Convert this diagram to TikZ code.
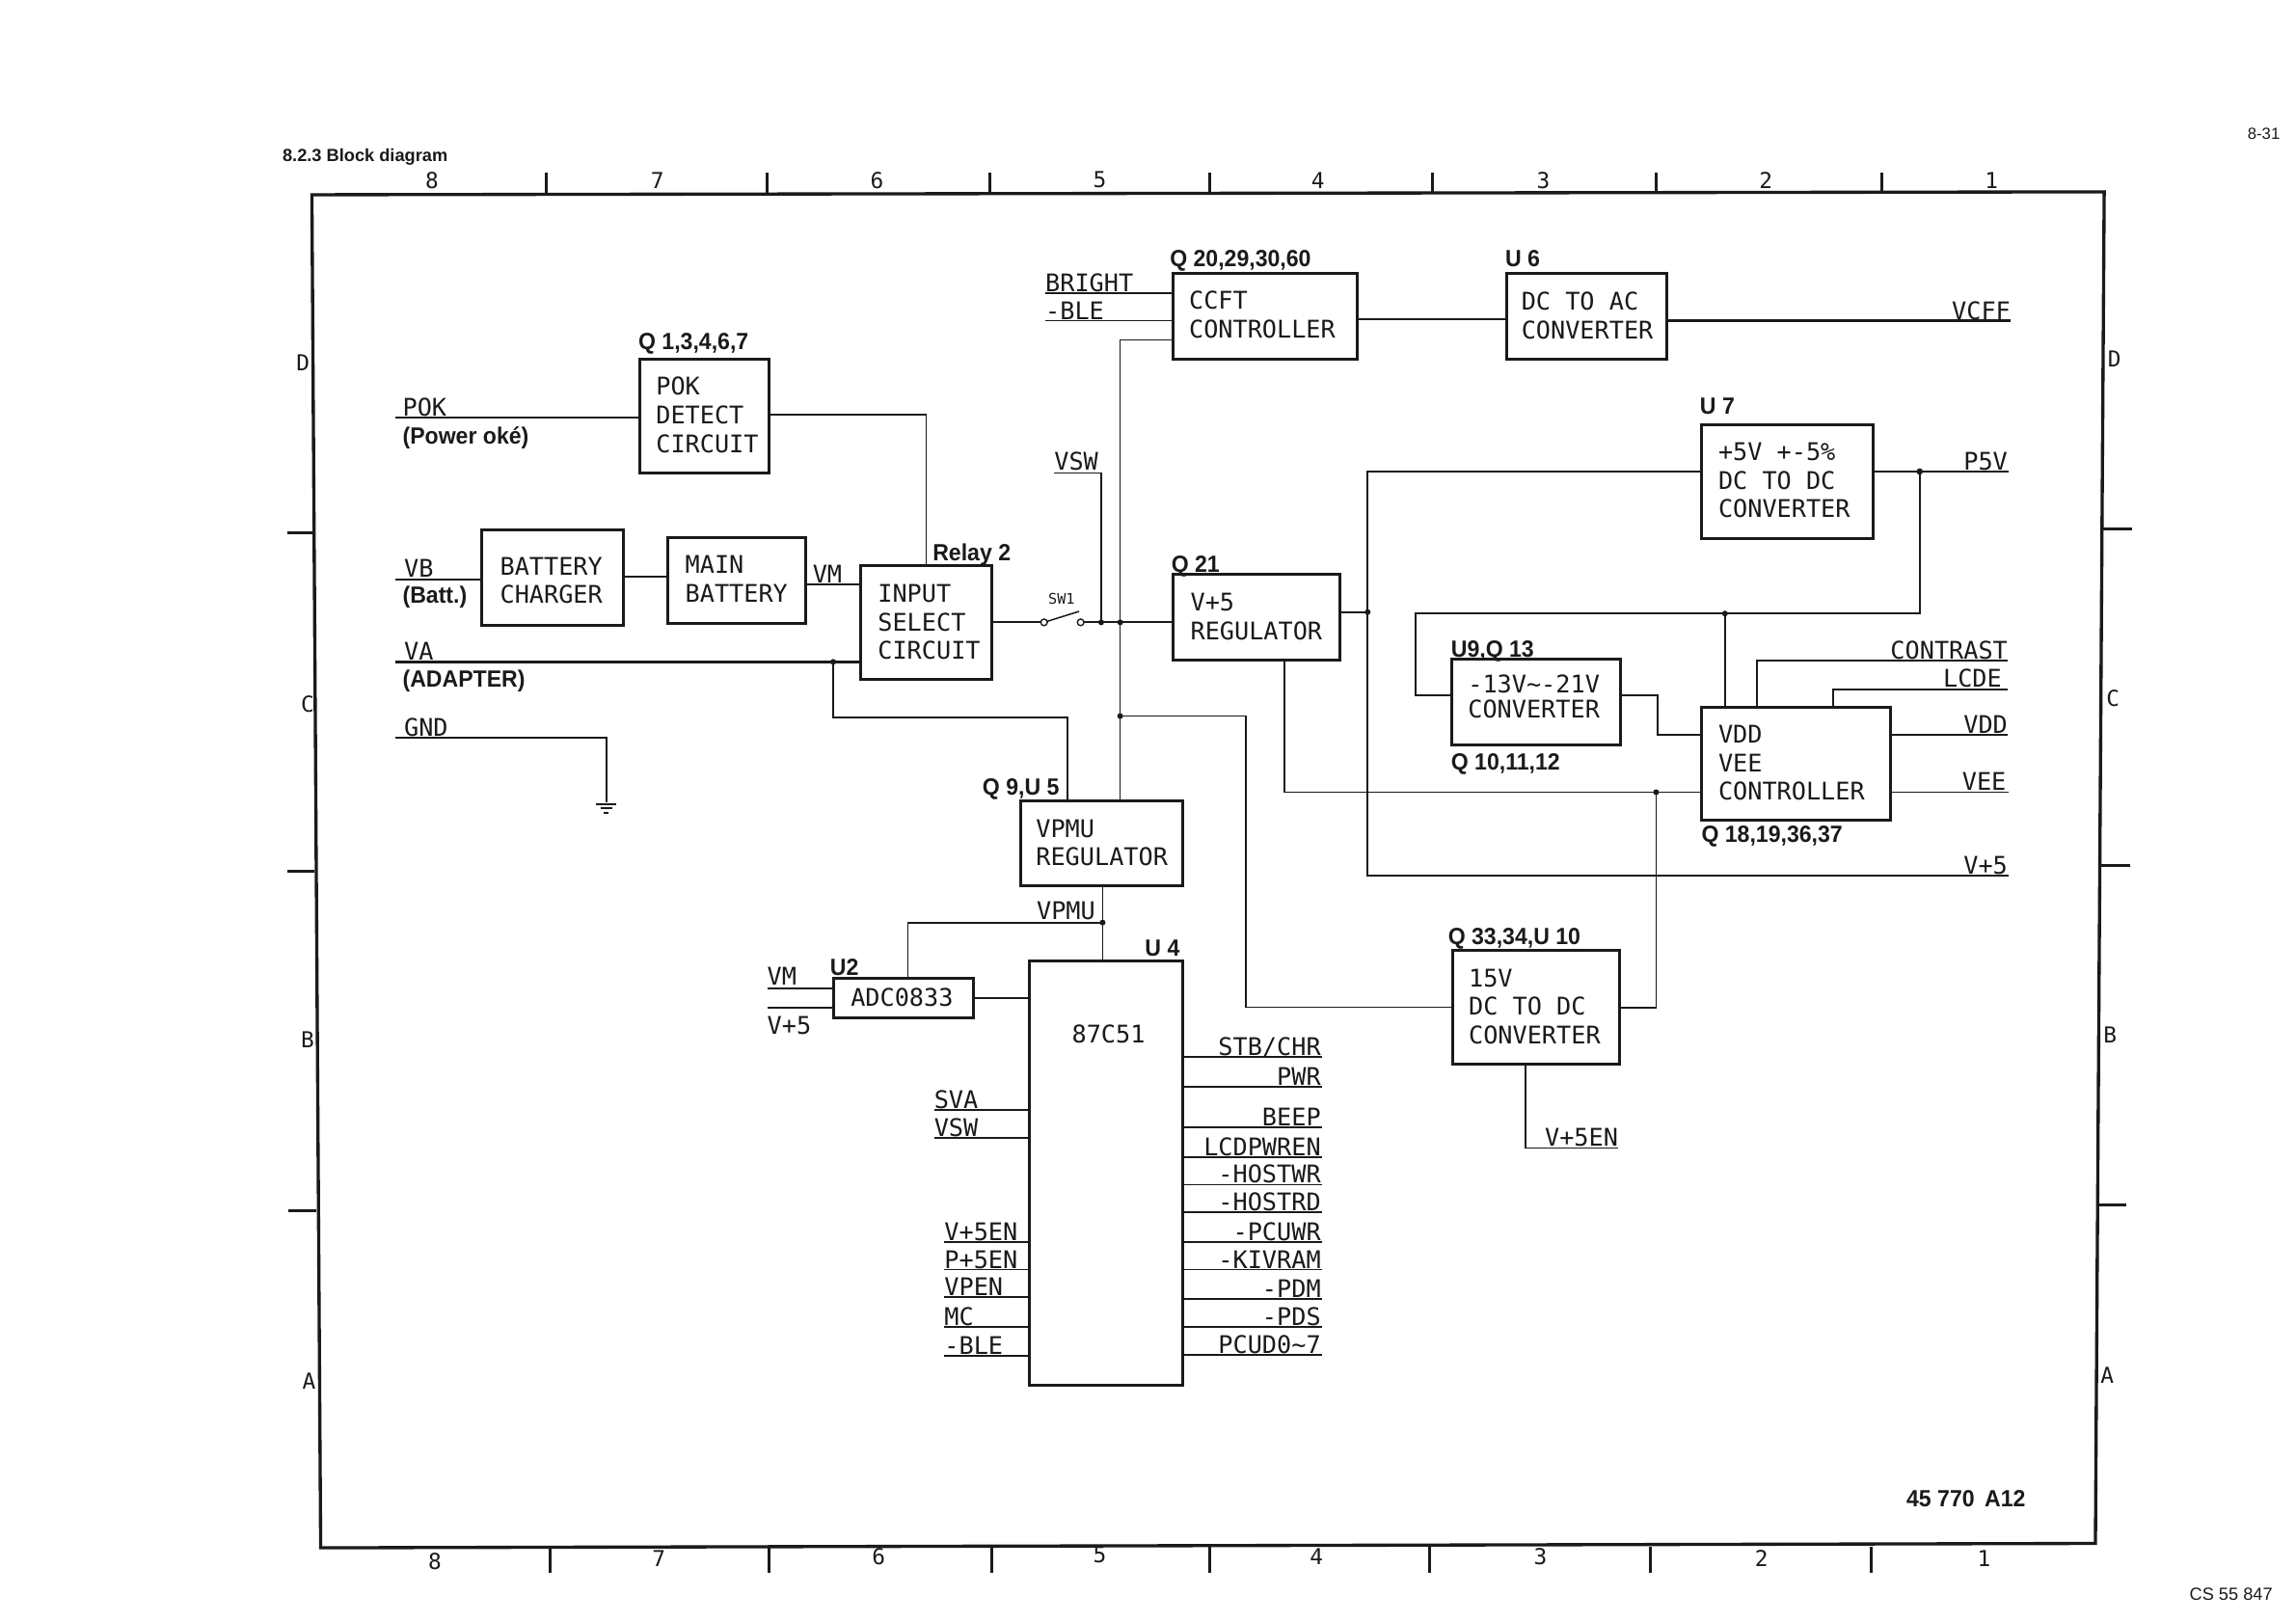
\documentclass[tikz,border=0pt]{standalone}
\usepackage{fontspec}
\setmainfont{Liberation Sans}
\newfontfamily\plotfont{DejaVu Sans Mono}
\newfontfamily\refsfont[FakeStretch=0.95]{Liberation Sans}
\newfontfamily\plainfont{Liberation Sans}
\definecolor{ink}{HTML}{1A1A1A}
\newsavebox\blkbox
\newcommand\Blk[3]{\sbox\blkbox{\begin{tabular}{@{}l@{}}#3\end{tabular}}\kern#1pt\raisebox{\dimexpr-#2pt\relax}[\ht\blkbox][\dp\blkbox]{\usebox\blkbox}\kern-#1pt}
\tikzset{
  blk/.style={draw=ink,line width=2pt,inner sep=0pt,outer sep=0pt,text=ink,font=\plotfont\fontsize{16.6}{19.5}\selectfont},
  wire/.style={draw=ink,line width=1.2pt},
  fine/.style={draw=ink,line width=1pt},
  heavy/.style={draw=ink,line width=1.6pt},
  sig/.style={inner sep=0pt,outer sep=0pt,text=ink,font=\plotfont\fontsize{16.6}{19.5}\selectfont},
  paren/.style={inner sep=0pt,outer sep=0pt,text=ink,font=\refsfont\bfseries\fontsize{16}{19}\selectfont},
  refd/.style={inner sep=0pt,outer sep=0pt,text=ink,font=\refsfont\bfseries\fontsize{16}{19}\selectfont},
  gridmark/.style={inner sep=0pt,outer sep=0pt,text=ink,font=\plotfont\fontsize{15}{18}\selectfont},
  headtext/.style={inner sep=0pt,outer sep=0pt,text=ink,font=\plainfont\bfseries\fontsize{12}{14}\selectfont},
  pgtext/.style={inner sep=0pt,outer sep=0pt,text=ink,font=\plainfont\fontsize{11}{13}\selectfont},
  jdot/.style={fill=ink,draw=none},
  gridtick/.style={draw=ink,line width=2pt},
  frameline/.style={draw=ink,line width=2.2pt},
  switchc/.style={draw=ink,line width=0.9pt,circle,minimum size=4.5pt,inner sep=0pt,outer sep=0pt,fill=white},
}
\begin{document}
\begin{tikzpicture}[x=1pt,y=-1pt]
\useasboundingbox (0,0) rectangle (1568,1107.66);
\fill[white] (0,0) rectangle (1568,1107.66);

% outer frame
\coordinate (ftl) at (213,133);
\coordinate (ftr) at (1437,131);
\coordinate (fbr) at (1431,1054);
\coordinate (fbl) at (219,1057);
\draw[frameline] (ftl) -- (ftr) -- (fbr) -- (fbl) -- cycle;
\foreach \x in {373,524,676,826,978,1131,1285} \draw[gridtick] (\x,118) -- (\x,132);
\foreach \x in {376,525,677,826,976,1127,1278} \draw[gridtick] (\x,1056) -- (\x,1074);
\draw[gridtick] (196,364) -- (214,364);
\draw[gridtick] (196,595) -- (215,595);
\draw[gridtick] (197,827) -- (216,827);
\draw[gridtick] (1436,361) -- (1456,361);
\draw[gridtick] (1435,591) -- (1455,591);
\draw[gridtick] (1433,823) -- (1452,823);
\foreach \i/\x/\t in {a/295/8,b/449/7,c/599/6,d/751/5,e/900/4,f/1054/3,g/1206/2,h/1360/1}
  \node[gridmark] (top\i) at (\x,123) {\t};
\foreach \i/\x/\y/\t in {a/297/1066/8,b/450/1064/7,c/600/1063/6,d/751/1062/5,e/899/1063/4,f/1052/1063/3,g/1203/1064/2,h/1355/1064/1}
  \node[gridmark] (bot\i) at (\x,\y) {\t};
\foreach \i/\x/\y/\t in {a/207/248/D,b/210/481/C,c/210/710/B,d/211/943/A,e/1444/245/D,f/1443/477/C,g/1441/707/B,h/1439/939/A}
  \node[gridmark] (side\i) at (\x,\y) {\t};

\node[headtext,anchor=base west] (title) at (193,110) {8.2.3 Block diagram};
\node[pgtext,anchor=base east] (pageno) at (1557,95) {8-31};
\node[pgtext,anchor=base east,font=\plainfont\fontsize{12}{14}\selectfont] (csno) at (1552,1093) {CS 55 847};
\node[refd,anchor=base west] (docno) at (1302,1029) {45 770 \,A12};

% blocks
\node[blk,minimum width=88,minimum height=78] (pok) at (481,284) {\Blk{2}{1.5}{POK\\DETECT\\CIRCUIT}};
\node[blk,minimum width=97,minimum height=65] (charger) at (377.5,394.5) {\Blk{-1}{4}{BATTERY\\CHARGER}};
\node[blk,minimum width=94,minimum height=59] (mainb) at (503,396.5) {\Blk{0}{1}{MAIN\\BATTERY}};
\node[blk,minimum width=89,minimum height=78] (isel) at (632.5,425) {\Blk{2}{2}{INPUT\\SELECT\\CIRCUIT}};
\node[blk,minimum width=126,minimum height=58] (ccft) at (864,216) {\Blk{-2}{1}{CCFT\\CONTROLLER}};
\node[blk,minimum width=109,minimum height=58] (dcac) at (1083.5,216) {\Blk{0.5}{1.5}{DC TO AC\\CONVERTER}};
\node[blk,minimum width=117,minimum height=78] (dcdc) at (1220.5,329) {\Blk{-2}{1}{+5V +-5\%\\DC TO DC\\CONVERTER}};
\node[blk,minimum width=114,minimum height=59] (reg) at (858,421.5) {\Blk{0}{1.5}{V+5\\REGULATOR}};
\node[blk,minimum width=115,minimum height=59,execute at begin node=\def\arraystretch{0.88}] (neg) at (1049,479.5) {\Blk{-1.5}{-1.5}{-13V\textasciitilde-21V\\CONVERTER}};
\node[blk,minimum width=129,minimum height=77] (vdd) at (1226.5,521.5) {\Blk{-3}{1.5}{VDD\\VEE\\CONTROLLER}};
\node[blk,minimum width=111,minimum height=58] (vpmu) at (752.5,576) {\Blk{0}{1.5}{VPMU\\REGULATOR}};
\node[blk,minimum width=96,minimum height=27] (adc) at (617,681.5) {\Blk{-1}{1.5}{ADC0833}};
\node[blk,minimum width=105,minimum height=290] (mcu) at (755.5,801) {};
\node[blk,minimum width=114,minimum height=78] (conv) at (1049,688) {\Blk{-1}{1.5}{15V\\DC TO DC\\CONVERTER}};
\node[sig,anchor=base] (mcuname) at (757,712) {87C51};

% reference designators
\node[refd,anchor=base west] at (436,239) (r1) {Q 1,3,4,6,7};
\node[refd,anchor=base west] at (637,383) (r2) {Relay 2};
\node[refd,anchor=base west] at (800,391) (r3) {Q 21};
\node[refd,anchor=base west] at (799,182) (r4) {Q 20,29,30,60};
\node[refd,anchor=base west] at (1028,182) (r5) {U 6};
\node[refd,anchor=base west] at (1161,283) (r6) {U 7};
\node[refd,anchor=base west] at (991,449) (r7) {U9,Q 13};
\node[refd,anchor=base west] at (991,526) (r8) {Q 10,11,12};
\node[refd,anchor=base west] at (1162,575) (r9) {Q 18,19,36,37};
\node[refd,anchor=base west] at (989,645) (r10) {Q 33,34,U 10};
\node[refd,anchor=base west] at (671,543) (r11) {Q 9,U 5};
\node[refd,anchor=base west] at (567,666) (r12) {U2};
\node[refd,anchor=base west] at (782,653) (r13) {U 4};

% left inputs
\coordinate (pokin) at (270,285);
\draw[wire] (pokin) -- (pokin -| pok.west);
\node[sig,anchor=base west] (lpok) at (275,284) {POK};
\node[paren,anchor=base west] (lpower) at (275,303) {(Power oké)};
\coordinate (pokout) at (525,283);
\draw[wire] (pokout) -| (isel.north);
\coordinate (vbin) at (270,396);
\draw[wire] (vbin) -- (vbin -| charger.west);
\node[sig,anchor=base west] (lvb) at (276,394) {VB};
\node[paren,anchor=base west] (lbatt) at (275,412) {(Batt.)};
\draw[wire] (charger.east |- 0,394) -- (mainb.west |- 0,394);
\coordinate (vmw) at (550,399);
\draw[wire] (vmw) -- (vmw -| isel.west);
\node[sig,anchor=base west] (lvm) at (555,398) {VM};
\coordinate (vain) at (270,452);
\draw[heavy] (vain) -- (vain -| isel.west);
\node[sig,anchor=base west] (lva) at (276,451) {VA};
\node[paren,anchor=base west] (ladapter) at (275,469) {(ADAPTER)};
\coordinate (vaj) at (569,452);
\coordinate (vabend) at (729,490);
\draw[fine] (vaj) |- (vabend) -- (vabend |- vpmu.north);
\fill[jdot] (vaj) circle (2);
% GND
\coordinate (gndin) at (270,504);
\coordinate (gndc) at (414,504);
\coordinate (gndp) at (414,548);
\draw[wire] (gndin) -- (gndc) -- (gndp);
\draw[wire] (407,549) -- (421,549);
\draw[wire] (410,552) -- (418,552);
\draw[wire] (412.5,555) -- (415.5,555);
\node[sig,anchor=base west] (lgnd) at (276,503) {GND};

% switch
\coordinate (swin) at (710.5,425);
\coordinate (swout) at (740.5,425);
\node[switchc] (swa) at (713,425) {};
\node[switchc] (swb) at (738,425) {};
\draw[wire] (isel.east |- swin) -- (swa);
\draw[fine] (swa) -- (737,417.5);
\draw[wire] (swb) -- (swb -| reg.west);
\node[sig,font=\plotfont\fontsize{10}{12}\selectfont] (lsw) at (725,409) {SW1};
\coordinate (j752) at (752,425);
\coordinate (j765) at (765,425);
\fill[jdot] (j752) circle (2);
\fill[jdot] (j765) circle (2);
% VSW
\coordinate (vswl) at (720,323);
\draw[fine] (vswl) -| (j752);
\node[sig,anchor=base east] (lvsw) at (750,321) {VSW};
% vertical bus from CCFT to VPMU
\coordinate (busq) at (765,232);
\draw[fine] (busq -| ccft.west) -- (busq) -- (busq |- vpmu.north);
\coordinate (j489) at (765,489);
\fill[jdot] (j489) circle (2);
\coordinate (c851) at (851,489);
\draw[fine] (j489) -- (c851) -- (c851 |- conv.west) -- (conv.west);
% CCFT inputs
\coordinate (bri) at (714,200);
\coordinate (ble) at (714,219);
\draw[wire] (bri) -- (bri -| ccft.west);
\draw[wire] (ble) -- (ble -| ccft.west);
\node[sig,anchor=base west] (lbri) at (714,199) {BRIGHT};
\node[sig,anchor=base west] (lble) at (714,218) {-BLE};
\draw[wire] (ccft.east |- 0,218) -- (dcac.west |- 0,218);
\coordinate (vcff) at (1373,219);
\draw[heavy] (dcac.east |- vcff) -- (vcff);
\node[sig,anchor=base east] (lvcff) at (1373,218) {VCFF};
% V+5 rail
\coordinate (j934) at (934,418);
\draw[wire] (reg.east |- j934) -- (j934);
\fill[jdot] (j934) circle (2);
\coordinate (r322) at (934,322);
\coordinate (r598) at (934,598);
\coordinate (v5out) at (1372,598);
\draw[wire] (dcdc.west |- r322) -- (r322) -- (r598) -- (v5out);
\node[sig,anchor=base east] (lv5) at (1371,597) {V+5};
% P5V
\coordinate (p5v) at (1372,322);
\coordinate (j1311) at (1311,322);
\draw[heavy] (dcdc.east |- p5v) -- (p5v);
\fill[jdot] (j1311) circle (2.2);
\node[sig,anchor=base east] (lp5v) at (1371,321) {P5V};
\coordinate (c419r) at (1311,419);
\coordinate (c419l) at (967,419);
\coordinate (c475) at (967,475);
\draw[wire] (j1311) -- (c419r) -- (c419l) -- (c475) -- (c475 -| neg.west);
\coordinate (j1178) at (1178,419);
\fill[jdot] (j1178) circle (2);
\draw[wire] (j1178) -- (j1178 |- vdd.north);
\coordinate (c1132a) at (1132,475);
\coordinate (c1132b) at (1132,502);
\draw[wire] (neg.east |- c1132a) -- (c1132a) -- (c1132b) -- (c1132b -| vdd.west);
% VDD controller outputs
\coordinate (ctr) at (1371,451);
\coordinate (ctrd) at (1200,451);
\draw[wire] (ctrd |- vdd.north) -- (ctrd) -- (ctr);
\node[sig,anchor=base east] (lctr) at (1371,450) {CONTRAST};
\coordinate (lcd) at (1371,471);
\coordinate (lcdd) at (1252,471);
\draw[wire] (lcdd |- vdd.north) -- (lcdd) -- (lcd);
\node[sig,anchor=base east] (llcd) at (1367,469) {LCDE};
\coordinate (vddo) at (1371,502);
\draw[wire] (vdd.east |- vddo) -- (vddo);
\node[sig,anchor=base east] (lvdd) at (1371,501) {VDD};
\coordinate (veeo) at (1372,541);
\draw[wire] (vdd.east |- veeo) -- (veeo);
\node[sig,anchor=base east] (lvee) at (1370,540) {VEE};
% regulator output
\coordinate (c877) at (877,541);
\draw[wire] (c877 |- reg.south) -- (c877) -- (c877 -| vdd.west);
\coordinate (j1131) at (1131,541);
\fill[jdot] (j1131) circle (2);
\coordinate (c688) at (1131,688);
\draw[wire] (j1131) -- (c688) -- (c688 -| conv.east);
% VPMU
\coordinate (j753) at (753,630);
\draw[fine] (j753 |- vpmu.south) -- (j753 |- mcu.north);
\fill[jdot] (j753) circle (2);
\coordinate (c620) at (620,630);
\draw[wire] (j753) -- (c620) -- (c620 |- adc.north);
\node[sig,anchor=base east] (lvpmu) at (748,628) {VPMU};
% ADC
\draw[heavy] (adc.east) -- (adc.east -| mcu.west);
\coordinate (avm) at (524,675);
\coordinate (av5) at (524,688);
\draw[wire] (avm) -- (avm -| adc.west);
\draw[wire] (av5) -- (av5 -| adc.west);
\node[sig,anchor=base west] (lavm) at (524,673) {VM};
\node[sig,anchor=base west] (lav5) at (524,706) {V+5};
% MCU pins, right
\foreach \n/\y/\b/\t in {a/722/721/{STB/CHR},b/742/741/{PWR},c/770/769/{BEEP},d/790/789/{LCDPWREN},e/809/808/{-HOSTWR},f/828/827/{-HOSTRD},g/848/847/{-PCUWR},h/867/866/{-KIVRAM},i/887/886/{-PDM},j/906/905/{-PDS},k/925/924/{PCUD0\textasciitilde7}}{
  \coordinate (rp\n) at (903,\y);
  \draw[wire] (mcu.east |- rp\n) -- (rp\n);
  \node[sig,anchor=base east] (lr\n) at (902,\b) {\t};
}
% MCU pins, left
\foreach \n/\x/\y/\t in {a/638/758/SVA,b/638/777/VSW,c/645/848/V+5EN,d/645/867/P+5EN,e/645/886/VPEN,f/645/906/MC,g/645/926/-BLE}{
  \coordinate (lp\n) at (\x,\y);
  \draw[wire] (lp\n) -- (lp\n -| mcu.west);
  \node[sig,anchor=base west] (ll\n) at (\x,\y-1) {\t};
}
% 15V output
\coordinate (c784) at (1042,784);
\coordinate (v5en) at (1105,784);
\draw[wire] (c784 |- conv.south) -- (c784) -- (v5en);
\node[sig,anchor=base east] (lv5en) at (1105,783) {V+5EN};
\end{tikzpicture}
\end{document}
